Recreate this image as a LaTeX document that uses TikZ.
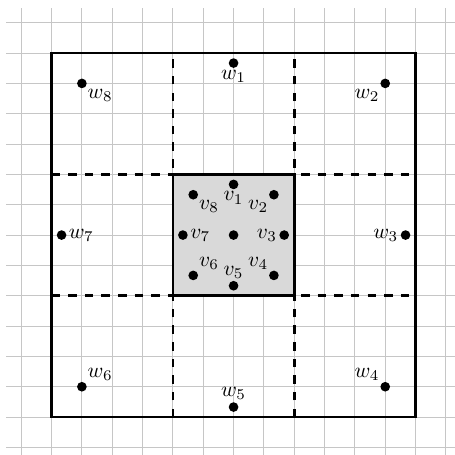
\documentclass[tikz,border=0pt]{standalone}
\usepackage{amsmath,amssymb}
\usetikzlibrary{positioning}
\tikzset{pt/.style={circle,fill,inner sep=1.6pt},
    every label/.style={inner sep=0.8pt},
    cellline/.style={very thick,dash pattern=on 4pt off 3.8pt}}

\begin{document}
\begin{tikzpicture}[scale = 0.5]
    \useasboundingbox (-1.7,-1.22) rectangle (13.3,13.75);
    % Grid
    \draw[gray!45, step=1] (-1.5,-1.5) grid (13.5,13.5);

    % Shaded inner cell
    \fill[gray!30] (4,4) rectangle (8,8);

    % Dashed cell boundaries
    \draw[cellline] (4,0) -- (4,12);
    \draw[cellline] (8,0) -- (8,12);
    \draw[cellline] (0,4) -- (12,4);
    \draw[cellline] (0,8) -- (12,8);

    % Outer and inner squares
    \draw[very thick] (0,0) rectangle (12,12);
    \draw[very thick] (4,4) rectangle (8,8);

    % Outer points
    \node[pt,label=below:$w_1$] (w1) at (6,11.67) {};
    \node[pt,label=below left:$w_2$] (w2) at (11,11) {};
    \node[pt,label=left:$w_3$] (w3) at (11.67,6) {};
    \node[pt,label=above left:$w_4$] (w4) at (11,1) {};
    \node[pt,label=above:$w_5$] (w5) at (6,0.33) {};
    \node[pt,label=above right:$w_6$] (w6) at (1,1) {};
    \node[pt,label=right:$w_7$] (w7) at (0.33,6) {};
    \node[pt,label=below right:$w_8$] (w8) at (1,11) {};

    % Inner points
    \node[pt] (c) at (6,6) {};
    \node[pt,label=below:$v_1$] (v1) at (6,7.67) {};
    \node[pt,label=below left:$v_2$] (v2) at (7.33,7.33) {};
    \node[pt,label=left:$v_3$] (v3) at (7.67,6) {};
    \node[pt,label=above left:$v_4$] (v4) at (7.33,4.67) {};
    \node[pt,label=above:$v_5$] (v5) at (6,4.33) {};
    \node[pt,label=above right:$v_6$] (v6) at (4.67,4.67) {};
    \node[pt,label=right:$v_7$] (v7) at (4.33,6) {};
    \node[pt,label=below right:$v_8$] (v8) at (4.67,7.33) {};
\end{tikzpicture}
\end{document}
